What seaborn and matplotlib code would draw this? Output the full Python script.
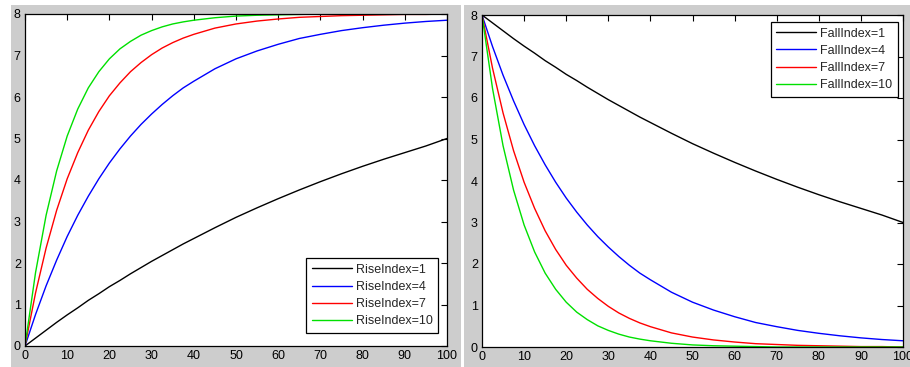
import matplotlib
matplotlib.use("Agg")
import matplotlib.pyplot as plt
import seaborn as sns
import pandas as pd
from matplotlib.patches import Rectangle

# values
x = [0, 2.5, 5, 7.5, 10, 12.5, 15, 17.5, 20, 22.5, 25, 27.5, 30, 32.5, 35, 37.5, 40,
     45, 50, 55, 60, 65, 70, 75, 80, 85, 90, 95, 100]

rise_1 = [0, 0.19, 0.38, 0.57, 0.75, 0.92, 1.10, 1.26, 1.43, 1.58, 1.74, 1.89, 2.04, 2.18, 2.32, 2.46, 2.59,
          2.85, 3.10, 3.33, 3.55, 3.76, 3.96, 4.15, 4.33, 4.50, 4.66, 4.82, 5.00]
rise_4 = [0, 0.76, 1.45, 2.07, 2.64, 3.15, 3.61, 4.03, 4.41, 4.75, 5.06, 5.34, 5.59, 5.82, 6.03, 6.22, 6.38,
          6.68, 6.92, 7.11, 7.27, 7.41, 7.51, 7.60, 7.67, 7.73, 7.78, 7.82, 7.85]
rise_7 = [0, 1.28, 2.36, 3.27, 4.03, 4.66, 5.20, 5.65, 6.03, 6.34, 6.61, 6.83, 7.02, 7.18, 7.31, 7.42, 7.51,
          7.66, 7.76, 7.83, 7.88, 7.92, 7.94, 7.96, 7.97, 7.98, 7.99, 7.99, 8.00]
rise_10 = [0, 1.77, 3.15, 4.22, 5.06, 5.71, 6.22, 6.61, 6.92, 7.16, 7.34, 7.49, 7.60, 7.69, 7.76, 7.81, 7.85,
           7.91, 7.95, 7.97, 7.98, 7.99, 8.00, 8.00, 8.00, 8.00, 8.00, 8.00, 8.00]

fall_1 = [8.00, 7.81, 7.62, 7.43, 7.25, 7.08, 6.90, 6.74, 6.57, 6.42, 6.26, 6.11, 5.96, 5.82, 5.68, 5.54, 5.41,
          5.15, 4.90, 4.67, 4.45, 4.24, 4.04, 3.85, 3.67, 3.50, 3.34, 3.18, 3.00]
fall_4 = [8.00, 7.24, 6.55, 5.93, 5.36, 4.85, 4.39, 3.97, 3.59, 3.25, 2.94, 2.66, 2.41, 2.18, 1.97, 1.78, 1.62,
          1.32, 1.08, 0.89, 0.73, 0.59, 0.49, 0.40, 0.33, 0.27, 0.22, 0.18, 0.15]
fall_7 = [8.00, 6.72, 5.64, 4.73, 3.97, 3.34, 2.80, 2.35, 1.97, 1.66, 1.39, 1.17, 0.98, 0.82, 0.69, 0.58, 0.49,
          0.34, 0.24, 0.17, 0.12, 0.08, 0.06, 0.04, 0.03, 0.02, 0.01, 0.01, 0.00]
fall_10 = [8.00, 6.23, 4.85, 3.78, 2.94, 2.29, 1.78, 1.39, 1.08, 0.84, 0.66, 0.51, 0.40, 0.31, 0.24, 0.19, 0.15,
           0.09, 0.05, 0.03, 0.02, 0.01, 0.00, 0.00, 0.00, 0.00, 0.00, 0.00, 0.00]

rise_labels = ["RiseIndex=1", "RiseIndex=4", "RiseIndex=7", "RiseIndex=10"]
fall_labels = ["FallIndex=1", "FallIndex=4", "FallIndex=7", "FallIndex=10"]
colores = ["#000000", "#0000ff", "#ff0000", "#00e000"]


def armar(series, nombres):
    filas = []
    for serie, nombre in zip(series, nombres):
        for xi, yi in zip(x, serie):
            filas.append({"x": xi, "y": yi, "serie": nombre})
    return pd.DataFrame(filas)


df_rise = armar([rise_1, rise_4, rise_7, rise_10], rise_labels)
df_fall = armar([fall_1, fall_4, fall_7, fall_10], fall_labels)

sns.set_style("white")
plt.rcParams['font.family'] = ['Liberation Sans', 'DejaVu Sans']

fig = plt.figure(figsize=(9.1, 3.67), dpi=100)
fig.patch.set_facecolor("white")
gris = "#cdcdcd"
fig.patches.append(Rectangle((11 / 910, 0), 450 / 910, 362 / 367, transform=fig.transFigure,
                             facecolor=gris, edgecolor="none", zorder=-10))
fig.patches.append(Rectangle((464 / 910, 0), 446 / 910, 362 / 367, transform=fig.transFigure,
                             facecolor=gris, edgecolor="none", zorder=-10))

ax1 = fig.add_axes([25 / 910, 21 / 367, 422 / 910, 332 / 367])
ax2 = fig.add_axes([482 / 910, 20 / 367, 421 / 910, 332 / 367])

for ax, df, nombres, loc, anchor in [
        (ax1, df_rise, rise_labels, "lower right", (0.979, 0.039)),
        (ax2, df_fall, fall_labels, "upper right", (0.988, 0.979))]:
    ax.set_zorder(1)
    sns.lineplot(data=df, x="x", y="y", hue="serie", hue_order=nombres,
                 palette=colores, linewidth=1, ax=ax)
    ax.set_facecolor("white")
    ax.set_xlim(0, 100)
    ax.set_ylim(0, 8)
    ax.set_xticks(range(0, 101, 10))
    ax.set_yticks(range(0, 9))
    ax.set_xlabel("")
    ax.set_ylabel("")
    ax.tick_params(direction="in", length=4, width=0.8, top=True, right=True,
                   labelsize=9, colors="black", pad=3)
    for s in ax.spines.values():
        s.set_visible(True)
        s.set_color("black")
        s.set_linewidth(0.9)
    leg = ax.legend(loc=loc, bbox_to_anchor=anchor, borderaxespad=0, fontsize=9,
                    handlelength=3.2, handletextpad=0.3, labelspacing=0.42,
                    borderpad=0.45, fancybox=False, framealpha=1)
    leg.get_frame().set_edgecolor("black")
    leg.get_frame().set_linewidth(0.9)

plt.savefig("out.png", dpi=100)
